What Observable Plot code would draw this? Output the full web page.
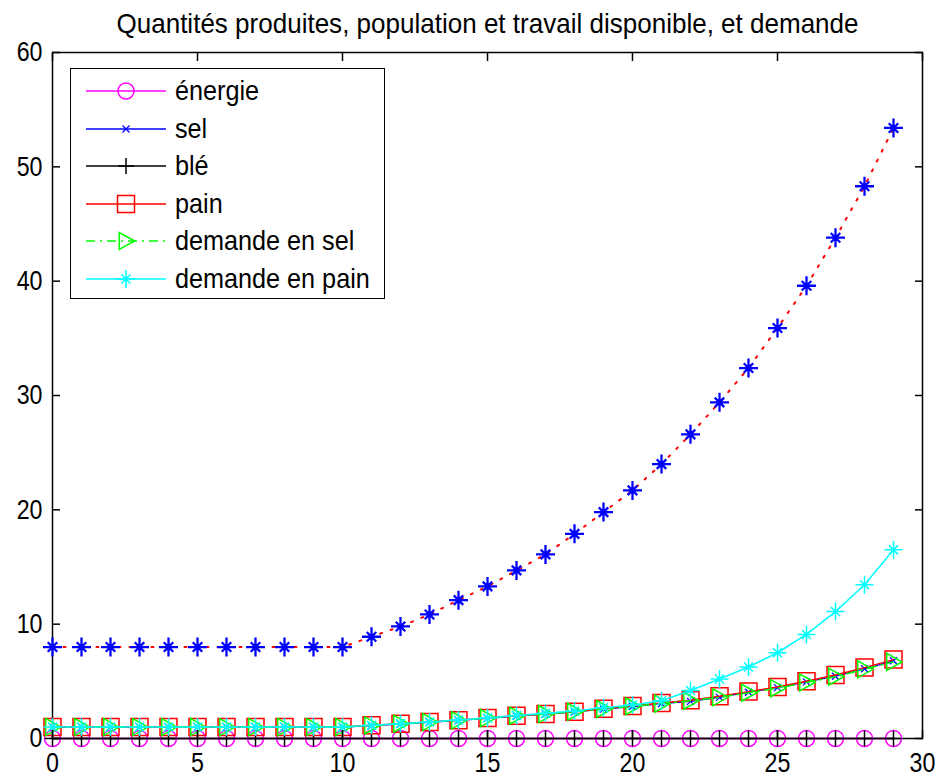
<!DOCTYPE html>
<html>
<head>
<meta charset="utf-8">
<script src="https://cdn.jsdelivr.net/npm/d3@7"></script>
<script src="https://cdn.jsdelivr.net/npm/@observablehq/plot@0.6"></script>
<style>
  body { margin: 0; background: #fff; }
  #wrap { position: relative; width: 945px; height: 778px; }
  #legend { position: absolute; left: 70px; top: 68px; width: 315px; height: 231px;
    border: 1.5px solid #000; background: #fff; box-sizing: border-box;
    font-family: "Liberation Sans", Arial, sans-serif; font-size: 28px; color: #000; }
  .row { position: absolute; left: 0; height: 30px; display: flex; align-items: center; white-space: nowrap; }
  .row svg { display: block; flex: none; }
  .row span { display: inline-block; margin-left: 8px; line-height: 30px; white-space: nowrap;
    transform: scaleX(0.9); transform-origin: left center; }
</style>
</head>
<body>
<div id="wrap"><div id="legend"></div></div>
<script>
// ---- data ----
const t = [0,1,2,3,4,5,6,7,8,9,10,11,12,13,14,15,16,17,18,19,20,21,22,23,24,25,26,27,28,29];
const energie = [0,0,0,0,0,0,0,0,0,0,0,0,0,0,0,0,0,0,0,0,0,0,0,0,0,0,0,0,0,0];
const sel = [1,1,1,1,1,1,1,1,1,1,1,1.12,1.27,1.42,1.58,1.77,1.97,2.13,2.33,2.57,2.8,3.05,3.25,3.6,4.05,4.45,4.95,5.45,6.1,6.8];
const ble = [0,0,0,0,0,0,0,0,0,0,0,0,0,0,0,0,0,0,0,0,0,0,0,0,0,0,0,0,0,0];
const pain = [1,1,1,1,1,1,1,1,1,1,1,1.15,1.3,1.45,1.6,1.8,2.0,2.15,2.35,2.6,2.85,3.1,3.35,3.7,4.1,4.5,5.0,5.55,6.2,6.9];
const demandeSel = [1,1,1,1,1,1,1,1,1,1,1,1.14,1.29,1.44,1.59,1.79,1.99,2.14,2.34,2.58,2.82,3.05,3.3,3.6,4.0,4.4,4.9,5.4,6.05,6.7];
const demandePain = [1,1,1,1,1,1,1,1,1,1,1,1.15,1.3,1.45,1.62,1.8,2.02,2.2,2.4,2.7,2.93,3.3,4.2,5.2,6.25,7.5,9.1,11.1,13.45,16.5];
const populationTravail = [8,8,8,8,8,8,8,8,8,8,8,8.9,9.8,10.85,12.1,13.3,14.7,16.1,17.9,19.8,21.7,24.0,26.6,29.4,32.4,35.9,39.6,43.8,48.3,53.4];
const xTicks = [0,5,10,15,20,25,30];
const yTicks = [0,10,20,30,40,50,60];
const legendLabels = ["énergie","sel","blé","pain","demande en sel","demande en pain"];
const titleText = "Quantités produites, population et travail disponible, et demande";

// ---- marker shapes (MATLAB-like) ----
const sym = (fn) => ({draw(c, size) { const r = Math.sqrt(size / Math.PI); fn(c, r); }});
const circleS = sym((c, r) => { c.moveTo(r, 0); c.arc(0, 0, r, 0, 2 * Math.PI); });
const squareS = sym((c, r) => { c.rect(-r, -r, 2 * r, 2 * r); });
const plusS = sym((c, r) => { c.moveTo(-r, 0); c.lineTo(r, 0); c.moveTo(0, -r); c.lineTo(0, r); });
const timesS = sym((c, r) => { c.moveTo(-r, -r); c.lineTo(r, r); c.moveTo(-r, r); c.lineTo(r, -r); });
const starS = sym((c, r) => { const d = r * 0.5; c.moveTo(-r, 0); c.lineTo(r, 0); c.moveTo(0, -r); c.lineTo(0, r);
  c.moveTo(-d, -d); c.lineTo(d, d); c.moveTo(-d, d); c.lineTo(d, -d); });
const triRightS = sym((c, r) => { c.moveTo(r, 0); c.lineTo(-r * 0.8, -r); c.lineTo(-r * 0.8, r); c.closePath(); });

const series = [
  {name: legendLabels[0], data: energie, color: "#ff00ff", dash: null, symbol: circleS, r: 8, sw: 1.5},
  {name: legendLabels[1], data: sel, color: "#0000ff", dash: null, symbol: timesS, r: 3.5, sw: 1.3},
  {name: legendLabels[2], data: ble, color: "#000000", dash: null, symbol: plusS, r: 8, sw: 1.5},
  {name: legendLabels[3], data: pain, color: "#ff0000", dash: null, symbol: squareS, r: 8.5, sw: 1.5},
  {name: legendLabels[4], data: demandeSel, color: "#00ff00", dash: "9,5,2,5", symbol: triRightS, r: 8.5, sw: 1.5},
  {name: legendLabels[5], data: demandePain, color: "#00ffff", dash: null, symbol: starS, r: 9, sw: 1.5}
];

const font = '"Liberation Sans", Arial, sans-serif';

const marks = [Plot.frame({stroke: "#000", strokeWidth: 1.5})];
for (const s of series) {
  marks.push(Plot.lineY(s.data, {x: t, stroke: s.color, strokeWidth: s.sw, strokeDasharray: s.dash}));
  marks.push(Plot.dotY(s.data, {x: t, symbol: s.symbol, r: s.r, stroke: s.color, fill: "none", strokeWidth: s.sw}));
}
// series not in legend: red dotted line with blue asterisks
marks.push(Plot.lineY(populationTravail, {x: t, stroke: "#ff0000", strokeWidth: 2, strokeDasharray: "2,9"}));
marks.push(Plot.dotY(populationTravail, {x: t, symbol: starS, r: 9.5, stroke: "#0000ff", fill: "none", strokeWidth: 2.3}));
marks.push(Plot.dotY(populationTravail, {x: t, r: 2.8, fill: "#0000ff", stroke: "none"}));

// axes: inward ticks on all four sides, labels bottom and left
marks.push(Plot.axisX({anchor: "bottom", ticks: xTicks, tickSize: 0, tickPadding: 14, label: null, fontSize: 28}));
marks.push(Plot.axisY({anchor: "left", ticks: yTicks, tickSize: 0, tickPadding: 10, label: null, fontSize: 28}));
marks.push(Plot.axisX({anchor: "bottom", ticks: xTicks, tickSize: -8, fill: "none", label: null, strokeWidth: 1.5}));
marks.push(Plot.axisX({anchor: "top", ticks: xTicks, tickSize: -8, fill: "none", label: null, strokeWidth: 1.5}));
marks.push(Plot.axisY({anchor: "left", ticks: yTicks, tickSize: -8, fill: "none", label: null, strokeWidth: 1.5}));
marks.push(Plot.axisY({anchor: "right", ticks: yTicks, tickSize: -8, fill: "none", label: null, strokeWidth: 1.5}));
// title
marks.push(Plot.text([titleText], {text: d => d, frameAnchor: "top", lineAnchor: "middle", dy: -28.5, fontSize: 28, fill: "#000"}));

const chart = Plot.plot({
  width: 945, height: 778,
  marginLeft: 52, marginRight: 23, marginTop: 52, marginBottom: 40,
  x: {domain: [0, 30]},
  y: {domain: [0, 60]},
  style: {fontFamily: font, fontSize: "28px", color: "#000", background: "#fff", overflow: "visible"},
  marks
});

// MATLAB's screen font is narrower than Liberation Sans: compress each text horizontally around its anchor
chart.querySelectorAll("text").forEach(el => {
  const k = el.textContent === titleText ? 0.93 : 0.83;
  let tr = el.getAttribute("transform") || "";
  const x = el.getAttribute("x");
  if (x !== null && /^-?[\d.]+(px)?$/.test(x.trim())) { // pixel x offset: move it out of the scaled space
    tr += ` translate(${parseFloat(x)},0)`;
    el.removeAttribute("x");
  }
  el.setAttribute("transform", `${tr} scale(${k},1)`.trim());
});

const wrap = document.getElementById("wrap");
wrap.insertBefore(chart, wrap.firstChild);

// legend
const legend = d3.select("#legend");
series.forEach((s, i) => {
  const row = legend.append("div").attr("class", "row").style("top", (7 + i * 37.5) + "px").style("left", "14px");
  const svg = row.append("svg").attr("width", 82).attr("height", 30);
  svg.append("line").attr("x1", 1).attr("x2", 81).attr("y1", 15).attr("y2", 15)
    .attr("stroke", s.color).attr("stroke-width", s.sw).attr("stroke-dasharray", s.dash);
  svg.append("path").attr("transform", "translate(41,15)")
    .attr("d", d3.symbol(s.symbol, Math.PI * s.r * s.r)())
    .attr("stroke", s.color).attr("fill", "none").attr("stroke-width", s.sw);
  row.append("span").text(s.name);
});
</script>
</body>
</html>
